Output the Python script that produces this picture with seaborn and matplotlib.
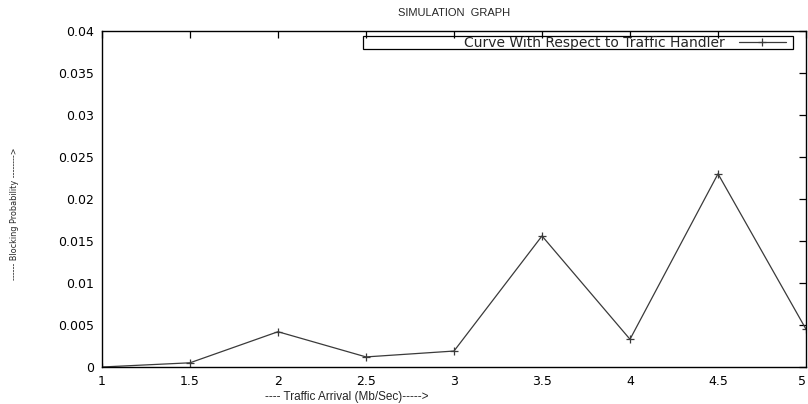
import matplotlib
matplotlib.use("Agg")
import matplotlib.pyplot as plt
from matplotlib.patches import Rectangle
import seaborn as sns
import pandas as pd

# Data
traffic_arrival = [1, 1.5, 2, 2.5, 3, 3.5, 4, 4.5, 5]
blocking_prob = [0.0, 0.0005, 0.0042, 0.0012, 0.0019, 0.0156, 0.0033, 0.0230, 0.0045]
x_ticks = [1, 1.5, 2, 2.5, 3, 3.5, 4, 4.5, 5]
x_tick_labels = ["1", "1.5", "2", "2.5", "3", "3.5", "4", "4.5", "5"]
y_ticks = [0, 0.005, 0.01, 0.015, 0.02, 0.025, 0.03, 0.035, 0.04]
y_tick_labels = ["0", "0.005", "0.01", "0.015", "0.02", "0.025", "0.03", "0.035", "0.04"]
series_name = "Curve With Respect to Traffic Handler"

sns.set_style("white")
plt.rcParams["font.family"] = ["DejaVu Sans"]

df = pd.DataFrame({"x": traffic_arrival, "y": blocking_prob, "series": series_name})

fig = plt.figure(figsize=(8.08, 4.04), dpi=100)
L, R, T, B = 102, 806, 31, 367
ax = fig.add_axes([L / 808, 1 - B / 404, (R - L) / 808, (B - T) / 404])

line_color = "#3a3a3a"
sns.lineplot(data=df, x="x", y="y", hue="series", palette=[line_color],
             marker="+", markersize=5.5, markeredgewidth=0.9,
             markeredgecolor=line_color, markerfacecolor=line_color,
             linewidth=0.9, ax=ax, legend=True)

ax.set_xlim(1, 5)
ax.set_ylim(0, 0.04)
ax.set_xticks(x_ticks)
ax.set_xticklabels(x_tick_labels)
ax.set_yticks(y_ticks)
ax.set_yticklabels(y_tick_labels)
ax.tick_params(direction="in", length=5, width=0.9, colors="black",
               labelsize=9, top=True, right=True, pad=6)
ax.get_xticklabels()[-1].set_ha("right")
for s in ax.spines.values():
    s.set_color("black")
    s.set_linewidth(1.0)
    s.set_visible(True)

ax.set_xlabel("")
ax.set_ylabel("")
fig.text(347 / 808, 1 - 397 / 404, "---- Traffic Arrival (Mb/Sec)----->",
         ha="center", va="center", fontsize=8.5, family=["Liberation Sans", "DejaVu Sans"])
fig.text(15 / 808, 1 - 214 / 404, "------ Blocking Probability -------->",
         ha="center", va="center", rotation=90, fontsize=6.5, fontstretch="condensed")
fig.text(454 / 808, 1 - 13 / 404, "SIMULATION  GRAPH", ha="center", va="center",
         fontsize=8, family=["Liberation Sans", "DejaVu Sans"])

# gnuplot-style key box
bx0, bx1, by0, by1 = 363, 793, 36, 49
ax.add_patch(Rectangle(((bx0 - L) / (R - L), (B - by1) / (B - T)),
                       (bx1 - bx0) / (R - L), (by1 - by0) / (B - T),
                       transform=ax.transAxes, fill=False, edgecolor="black",
                       linewidth=0.9, zorder=4))

handles, labels = ax.get_legend_handles_labels()
leg = ax.legend(handles, labels, loc="center right", markerfirst=False,
                bbox_to_anchor=((786 - L) / (R - L), (B - 42.5) / (B - T)),
                frameon=False, fontsize=10, handlelength=3.4,
                borderpad=0, handletextpad=1.0, borderaxespad=0)

fig.savefig("out.png", dpi=100)
